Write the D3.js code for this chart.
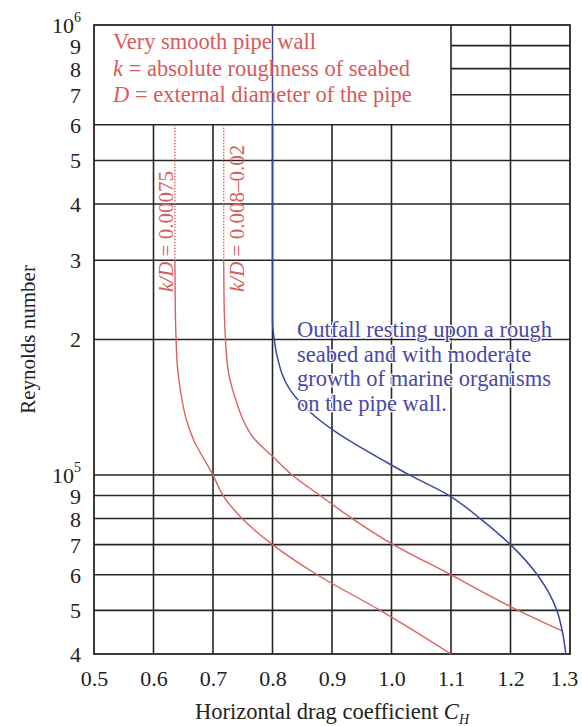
<!DOCTYPE html>
<html><head><meta charset="utf-8">
<script src="https://cdn.jsdelivr.net/npm/d3@7"></script>
<style>
html,body{margin:0;padding:0;background:#fff;}
svg{display:block;}
text{font-family:"Liberation Serif","DejaVu Serif",serif;}
</style></head>
<body>
<svg id="chart" width="582" height="726"></svg>
<script>
// ---------- data ----------
const xTicks = [0.5,0.6,0.7,0.8,0.9,1.0,1.1,1.2,1.3];
const xTickLabels = ["0.5","0.6","0.7","0.8","0.9","1.0","1.1","1.2","1.3"];
const yTicks = [1e6,9e5,8e5,7e5,6e5,5e5,4e5,3e5,2e5,1e5,9e4,8e4,7e4,6e4,5e4,4e4];
const yTickLabels = ["10|6","9","8","7","6","5","4","3","2","10|5","9","8","7","6","5","4"];
// horizontal grid lines spanning full width (below the note box)
const gridYFull = [6e5,5e5,4e5,3e5,2e5,1e5,9e4,8e4,7e4,6e4,5e4];
// horizontal grid lines only to the right of the note box
const gridYRight = [9e5,8e5,7e5];
// vertical lines starting below the note box
const gridXLower = [0.6,0.7,0.8,0.9,1.0];
// vertical lines running full height
const gridXFull = [1.1,1.2];

// curves: [Reynolds, C_H]
const smoothDotted = [[6e5,0.636],[3e5,0.636]];
const smoothCurve = [[3e5,0.636],[2.2e5,0.637],[2e5,0.638],[1.75e5,0.640],[1.55e5,0.645],[1.33e5,0.655],[1.2e5,0.667],[1e5,0.700],[9e4,0.717],[8e4,0.749],[7e4,0.800],[6e4,0.875],[5e4,0.981],[4e4,1.100]];
const roughDotted = [[6e5,0.718],[3e5,0.718]];
const roughCurve = [[3e5,0.718],[2.3e5,0.719],[2e5,0.721],[1.69e5,0.726],[1.42e5,0.742],[1.33e5,0.750],[1.2e5,0.770],[1.1e5,0.800],[1e5,0.833],[9e4,0.880],[8e4,0.934],[7e4,1.003],[6e4,1.100],[5.1e4,1.200],[4.5e4,1.287]];
const outfallCurve = [[1e6,0.800],[2.2e5,0.800],[2e5,0.803],[1.83e5,0.808],[1.55e5,0.829],[1.38e5,0.863],[1.25e5,0.905],[1.19e5,0.930],[1.07e5,0.990],[1e5,1.030],[9e4,1.097],[8e4,1.149],[7e4,1.200],[6e4,1.245],[5e4,1.278],[4.5e4,1.287],[4e4,1.293]];

const noteLines = [["","Very smooth pipe wall"],["k"," = absolute roughness of seabed"],["D"," = external diameter of the pipe"]];
const outfallLines = ["Outfall resting upon a rough","seabed and with moderate","growth of marine organisms","on the pipe wall."];

// ---------- layout ----------
const svg = d3.select("#chart");
const L=94, R=570, T=25, B=654;
const x = d3.scaleLinear().domain([0.5,1.3]).range([L,R]);
const y = d3.scaleLog().domain([4e4,1e6]).range([B,T]);

const gridColor="#262626", red="#e06060", redText="#d85a5a", blue="#3848a0", blueText="#4a48a8";

const g = svg.append("g");
// grid
g.selectAll("line.hf").data(gridYFull).enter().append("line")
  .attr("x1",x(0.5)).attr("x2",x(1.3)).attr("y1",d=>y(d)).attr("y2",d=>y(d))
  .attr("stroke",gridColor).attr("stroke-width",1.6);
g.selectAll("line.hr").data(gridYRight).enter().append("line")
  .attr("x1",x(1.1)).attr("x2",x(1.3)).attr("y1",d=>y(d)).attr("y2",d=>y(d))
  .attr("stroke",gridColor).attr("stroke-width",1.6);
g.selectAll("line.vl").data(gridXLower).enter().append("line")
  .attr("x1",d=>x(d)).attr("x2",d=>x(d)).attr("y1",y(6e5)).attr("y2",y(4e4))
  .attr("stroke",gridColor).attr("stroke-width",1.6);
g.selectAll("line.vf").data(gridXFull).enter().append("line")
  .attr("x1",d=>x(d)).attr("x2",d=>x(d)).attr("y1",y(1e6)).attr("y2",y(4e4))
  .attr("stroke",gridColor).attr("stroke-width",1.6);
g.append("rect").attr("x",x(0.5)).attr("y",y(1e6)).attr("width",x(1.3)-x(0.5)).attr("height",y(4e4)-y(1e6))
  .attr("fill","none").attr("stroke",gridColor).attr("stroke-width",1.8);

// curves
const line = d3.line().x(d=>x(d[1])).y(d=>y(d[0])).curve(d3.curveMonotoneY);
g.append("path").datum(smoothDotted).attr("d",line).attr("fill","none").attr("stroke",red).attr("stroke-width",1.4).attr("stroke-dasharray","1.5,1.5");
g.append("path").datum(roughDotted).attr("d",line).attr("fill","none").attr("stroke",red).attr("stroke-width",1.4).attr("stroke-dasharray","1.5,1.5");
g.append("path").datum(smoothCurve).attr("d",line).attr("fill","none").attr("stroke",red).attr("stroke-width",1.4);
g.append("path").datum(roughCurve).attr("d",line).attr("fill","none").attr("stroke",red).attr("stroke-width",1.4);
g.append("path").datum(outfallCurve).attr("d",line).attr("fill","none").attr("stroke",blue).attr("stroke-width",1.5);

// curve labels (rotated)
function kdLabel(px, py, val){
  const t = g.append("text").attr("transform",`translate(${px},${py}) rotate(-90)`)
    .attr("font-size",21).attr("fill",redText);
  t.append("tspan").attr("font-style","italic").text("k/D");
  t.append("tspan").text(" = "+val);
}
kdLabel(173, 292, "0.00075");
kdLabel(244, 292, "0.008–0.02");

// note text
const note = g.append("g");
noteLines.forEach((ln,i)=>{
  const t = note.append("text").attr("x",113).attr("y",49+i*26.5).attr("font-size",22.5).attr("fill",redText);
  if(ln[0]) t.append("tspan").attr("font-style","italic").text(ln[0]);
  t.append("tspan").text(ln[1]);
});

// outfall text
outfallLines.forEach((s,i)=>{
  g.append("text").attr("x",297).attr("y",337+i*24.5).attr("font-size",22.5).attr("fill",blueText)
    .attr("stroke","#fff").attr("stroke-width",2.5).attr("paint-order","stroke").text(s);
});

// axes (labels only)
const xAxis = d3.axisBottom(x).tickValues(xTicks).tickSize(0).tickPadding(0)
  .tickFormat((d,i)=>xTickLabels[i]);
const xa = svg.append("g").attr("transform",`translate(0,${B})`).call(xAxis);
xa.select(".domain").remove();
xa.selectAll("text").attr("font-size",22).attr("fill","#222").attr("dy",null).attr("y",32)
  .attr("dx",(d,i)=> i===xTicks.length-1 ? -6 : 0)
  .style("font-family","'Liberation Serif',serif");

const yAxis = d3.axisLeft(y).tickValues(yTicks).tickSize(0).tickPadding(0)
  .tickFormat((d,i)=>yTickLabels[i]);
const ya = svg.append("g").attr("transform",`translate(${L-13},0)`).call(yAxis);
ya.select(".domain").remove();
ya.selectAll("text").each(function(d,i){
  const s = yTickLabels[i];
  const t = d3.select(this).text(null).attr("font-size",22).attr("fill","#222").attr("x",0).attr("dy","0.34em")
    .style("font-family","'Liberation Serif',serif");
  if(s.includes("|")){
    const [b,e]=s.split("|");
    t.append("tspan").text(b);
    t.append("tspan").attr("font-size",14).attr("dy","-0.75em").text(e);
  } else t.text(s);
});

// axis titles
const xt = svg.append("text").attr("x",(L+R)/2).attr("y",719).attr("text-anchor","middle").attr("font-size",22.5).attr("fill","#222");
xt.append("tspan").text("Horizontal drag coefficient ");
xt.append("tspan").attr("font-style","italic").text("C");
xt.append("tspan").attr("font-style","italic").attr("font-size",14).attr("dy",5).text("H");

svg.append("text").attr("transform",`translate(35,${(T+B)/2}) rotate(-90)`).attr("text-anchor","middle")
  .attr("font-size",21).attr("fill","#222").text("Reynolds number");
</script>
</body></html>
